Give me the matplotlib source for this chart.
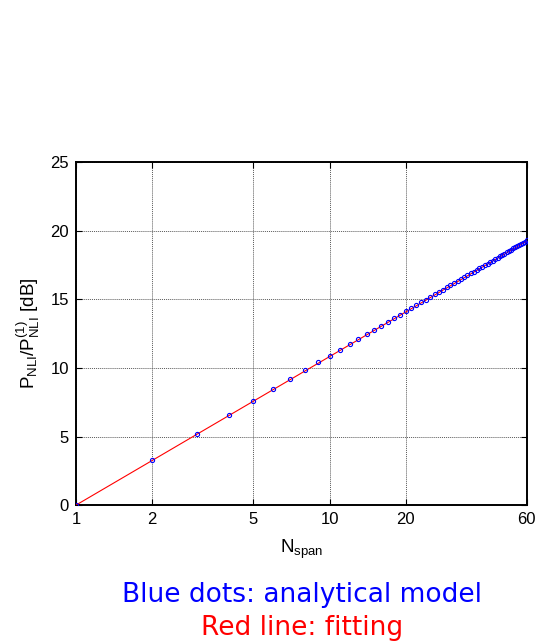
import matplotlib
matplotlib.use("Agg")
import matplotlib.pyplot as plt
from matplotlib.ticker import FixedLocator, NullLocator

# Data
n_span = list(range(1, 61))
ratio_db = [0.00, 3.30, 5.20, 6.56, 7.62, 8.48, 9.19, 9.83, 10.40, 10.87,
            11.31, 11.74, 12.12, 12.45, 12.79, 13.07, 13.36, 13.63, 13.88, 14.12,
            14.35, 14.57, 14.78, 14.98, 15.17, 15.36, 15.53, 15.71, 15.87, 16.03,
            16.18, 16.33, 16.48, 16.62, 16.76, 16.89, 17.02, 17.14, 17.27, 17.38,
            17.50, 17.61, 17.72, 17.83, 17.94, 18.04, 18.14, 18.24, 18.34, 18.43,
            18.53, 18.62, 18.71, 18.80, 18.88, 18.97, 19.05, 19.13, 19.21, 19.29]
fit_x = [1, 60]
fit_y = [0.0, 19.25]
xticks = [1, 2, 5, 10, 20, 60]
xticklabels = ["1", "2", "5", "10", "20", "60"]
yticks = [0, 5, 10, 15, 20, 25]

fig = plt.figure(figsize=(5.37, 6.41), dpi=100)
ax = fig.add_axes([0.1415, 0.212, 0.8395, 0.535])

ax.plot(fit_x, fit_y, color="red", lw=0.8, zorder=3)
ax.plot(n_span, ratio_db, linestyle="none", marker="o", markersize=3.0,
        markerfacecolor="none", markeredgecolor="blue", markeredgewidth=0.8, zorder=4)

ax.set_xscale("log")
ax.set_xlim(1, 60)
ax.set_ylim(0, 25)
ax.xaxis.set_major_locator(FixedLocator(xticks))
ax.xaxis.set_minor_locator(NullLocator())
ax.set_xticklabels(xticklabels)
ax.set_yticks(yticks)

for lab in ax.get_xticklabels() + ax.get_yticklabels():
    lab.set_fontfamily("Liberation Sans")
    lab.set_fontsize(12)

ax.tick_params(direction="in", length=4, width=0.8, top=True, right=True, pad=5)
ax.grid(True, linestyle=(0, (1, 1)), color="0.35", lw=0.7)
for s in ax.spines.values():
    s.set_linewidth(1.4)

label_font = {"family": "Liberation Sans", "size": 13.5}
ax.set_xlabel(r"$\mathregular{N_{span}}$", fontdict=label_font, labelpad=8)
ax.set_ylabel(r"$\mathregular{P_{NLI}/P^{(1)}_{NLI}}$ [dB]", fontdict=label_font, labelpad=6)

fig.text(0.563, 0.061, "Blue dots: analytical model", color="blue",
         ha="center", va="baseline", fontsize=19, family="DejaVu Sans")
fig.text(0.563, 0.009, "Red line: fitting", color="red",
         ha="center", va="baseline", fontsize=19, family="DejaVu Sans")

fig.savefig("out.png", dpi=100)
